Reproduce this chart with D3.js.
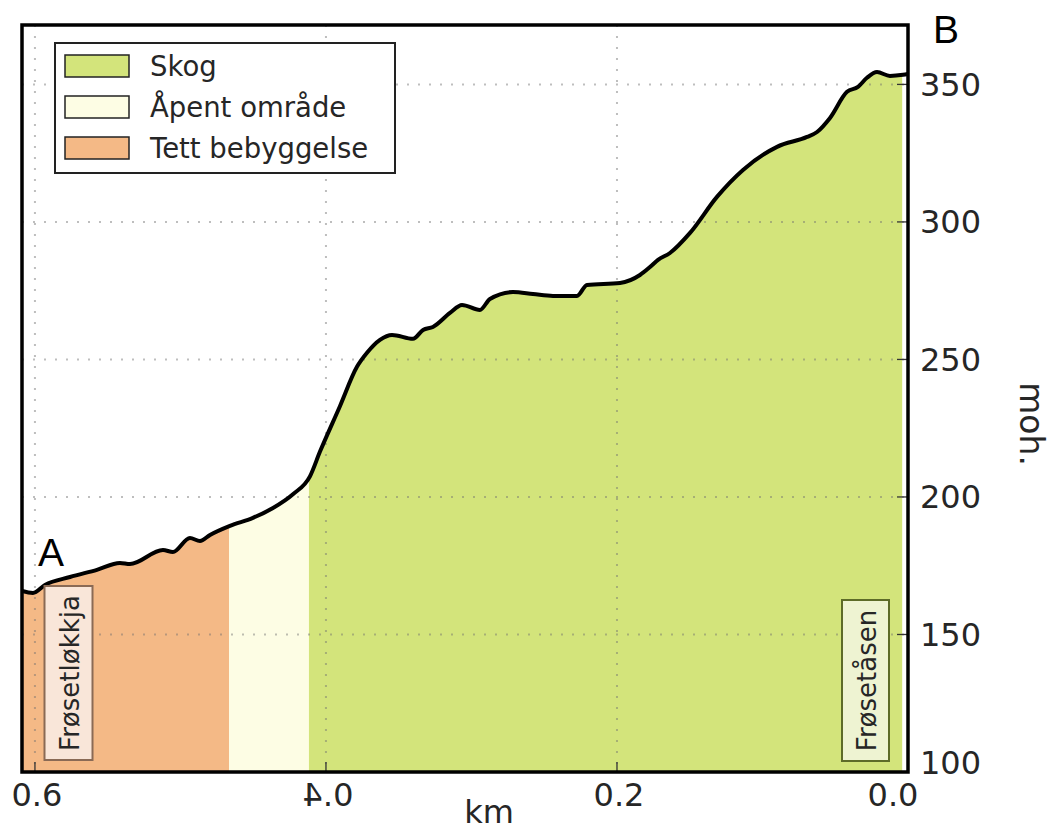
<!DOCTYPE html>
<html><head><meta charset="utf-8">
<script src="https://cdn.jsdelivr.net/npm/d3@7"></script>
<style>
html,body{margin:0;padding:0;background:#fff;}
svg{display:block;font-family:"DejaVu Sans",sans-serif;}
</style></head>
<body>
<svg id="c" width="1051" height="832"></svg>
<script>
// distance from B (km) and elevation (moh.)
const distKm = [0.6089,0.6014,0.5931,0.5759,0.5574,0.5416,0.5347,0.5120,0.5052,0.4935,0.4866,0.4797,0.4660,0.4502,0.4364,0.4227,0.4110,0.4041,0.3904,0.3787,0.3718,0.3629,0.3546,0.3402,0.3333,0.3265,0.3148,0.3065,0.2942,0.2873,0.2715,0.2577,0.2440,0.2275,0.2206,0.1979,0.1842,0.1773,0.1718,0.1636,0.1498,0.1313,0.1134,0.0900,0.0694,0.0625,0.0536,0.0419,0.0344,0.0282,0.0213,0.0124,0.0034,0.0];
const elevation = [165.8,165.1,168.0,170.9,173.5,176.0,175.6,180.7,180.0,185.1,184.0,186.2,189.5,192.4,196.0,201.0,207.5,216.5,233.0,247.3,252.4,257.1,258.9,257.5,260.7,261.8,266.9,269.8,268.0,272.0,274.5,273.8,273.1,273.1,277.1,277.8,280.7,283.6,286.2,288.7,296.0,309.1,318.9,327.3,330.9,332.7,337.8,347.3,349.1,352.4,354.5,353.1,353.5,353.8];
const zoneNames = ["Tett bebyggelse","Åpent område","Skog"];
const zoneFrom = [0.6089,0.4667,0.4117];
const zoneTo = [0.4667,0.4117,0.004];
const legendOrder = ["Skog","Åpent område","Tett bebyggelse"];
const xTicks = [0.6,0.4,0.2,0.0];
const xTickLabels = ["0.6","0.4","0.2","0.0"];
const yTicks = [100,150,200,250,300,350];
const xDomain = [0.6089,0];
const yDomain = [100,371.6];

const zoneColor = {"Tett bebyggelse":"#f4b986","Åpent område":"#fdfde4","Skog":"#d3e47b"};

const svg = d3.select("#c");
const L=22,R=908,T=25,B=772;
const x = d3.scaleLinear().domain(xDomain).range([L,R]);
const y = d3.scaleLinear().domain(yDomain).range([B,T]);
const data = distKm.map((d,i)=>({d, e:elevation[i]}));

const defs = svg.append("defs");
zoneNames.forEach((n,i)=>{
  defs.append("clipPath").attr("id","z"+i).append("rect")
    .attr("x", x(zoneFrom[i])).attr("y", T)
    .attr("width", x(zoneTo[i]) - x(zoneFrom[i])).attr("height", B-T);
});
const area = d3.area().x(p=>x(p.d)).y0(y(100)).y1(p=>y(p.e)).curve(d3.curveMonotoneX);
zoneNames.forEach((n,i)=>{
  svg.append("path").datum(data).attr("d",area).attr("fill",zoneColor[n]).attr("clip-path","url(#z"+i+")");
});

// grid
const grid = svg.append("g").attr("stroke","#6f6f6f").attr("stroke-opacity",0.45).attr("stroke-width",2).attr("stroke-dasharray","2,9");
xTicks.filter(v=>v>0).forEach(v=>grid.append("line").attr("x1",x(v)).attr("x2",x(v)).attr("y1",T).attr("y2",B));
yTicks.filter(v=>v>100).forEach(v=>grid.append("line").attr("x1",L).attr("x2",R).attr("y1",y(v)).attr("y2",y(v)));

// ticks (inward)
const tk = svg.append("g").attr("stroke","#333").attr("stroke-width",1.3);
xTicks.forEach(v=>tk.append("line").attr("x1",x(v)).attr("x2",x(v)).attr("y1",B).attr("y2",B-10));
yTicks.forEach(v=>tk.append("line").attr("x1",R).attr("x2",R-11).attr("y1",y(v)).attr("y2",y(v)));

// profile line
const line = d3.line().x(p=>x(p.d)).y(p=>y(p.e)).curve(d3.curveMonotoneX);
svg.append("path").datum(data).attr("d",line).attr("fill","none").attr("stroke","#000").attr("stroke-width",4).attr("stroke-linejoin","round");

// spines
svg.append("rect").attr("x",L).attr("y",T).attr("width",R-L).attr("height",B-T)
  .attr("fill","none").attr("stroke","#000").attr("stroke-width",3.5);

// tick labels
const TF = 32;
xTicks.forEach((v,i)=>{
  const dx = v===0 ? -15 : 2;
  const t = svg.append("text").attr("font-size",TF).attr("fill","#262626").attr("text-anchor","middle")
    .text(xTickLabels[i]);
  if (v===0.4) t.attr("transform",`translate(${x(v)+2},806) scale(-1,1)`);
  else t.attr("x",x(v)+dx).attr("y",806);
});
yTicks.forEach(v=>{
  svg.append("text").attr("x",R+12).attr("y",y(v)+(v===100?-10:0)).attr("dy","0.36em")
    .attr("font-size",TF).attr("fill","#262626").text(v);
});

// axis titles
svg.append("text").attr("x",489).attr("y",823).attr("text-anchor","middle").attr("font-size",32).attr("fill","#262626").text("km");
svg.append("text").attr("transform","translate(1020,424) rotate(90)").attr("text-anchor","middle")
  .attr("font-size",33).attr("fill","#262626").text("moh.");

// A / B
svg.append("text").attr("x",x(0.6089)+16).attr("y",y(165.8)-25).attr("font-family","Liberation Sans, Arial, sans-serif").attr("font-size",39).attr("fill","#000").text("A");
svg.append("text").attr("x",R+25).attr("y",43).attr("font-family","Liberation Sans, Arial, sans-serif").attr("font-size",39).attr("fill","#000").text("B");

// place annotations
function placeLabel(cx, top, bottom, w, txt, fill, stroke){
  svg.append("rect").attr("x",cx-w/2).attr("y",top).attr("width",w).attr("height",bottom-top)
    .attr("fill",fill).attr("stroke",stroke).attr("stroke-width",2);
  svg.append("text").attr("transform",`translate(${cx+1},${(top+bottom)/2}) rotate(-90)`)
    .attr("text-anchor","middle").attr("dy","0.36em").attr("font-size",26).attr("fill","#262626").text(txt);
}
placeLabel(68.5, 586, 760, 48, "Frøsetløkkja", "#f9e6d9", "#8a6a55");
placeLabel(865.5, 600, 761, 47, "Frøsetåsen", "#eef3d2", "#5d6b28");

// legend
const lg = svg.append("g");
lg.append("rect").attr("x",55).attr("y",43).attr("width",340).attr("height",130)
  .attr("fill","#fff").attr("stroke","#222").attr("stroke-width",2);
legendOrder.forEach((n,i)=>{
  const yy = 55 + i*41;
  lg.append("rect").attr("x",65).attr("y",yy).attr("width",64).attr("height",22)
    .attr("fill",zoneColor[n]).attr("stroke","#222").attr("stroke-width",1.5);
  lg.append("text").attr("x",150).attr("y",yy+11).attr("dy","0.36em").attr("font-size",27.5).attr("fill","#262626").text(n);
});
</script>
</body></html>
